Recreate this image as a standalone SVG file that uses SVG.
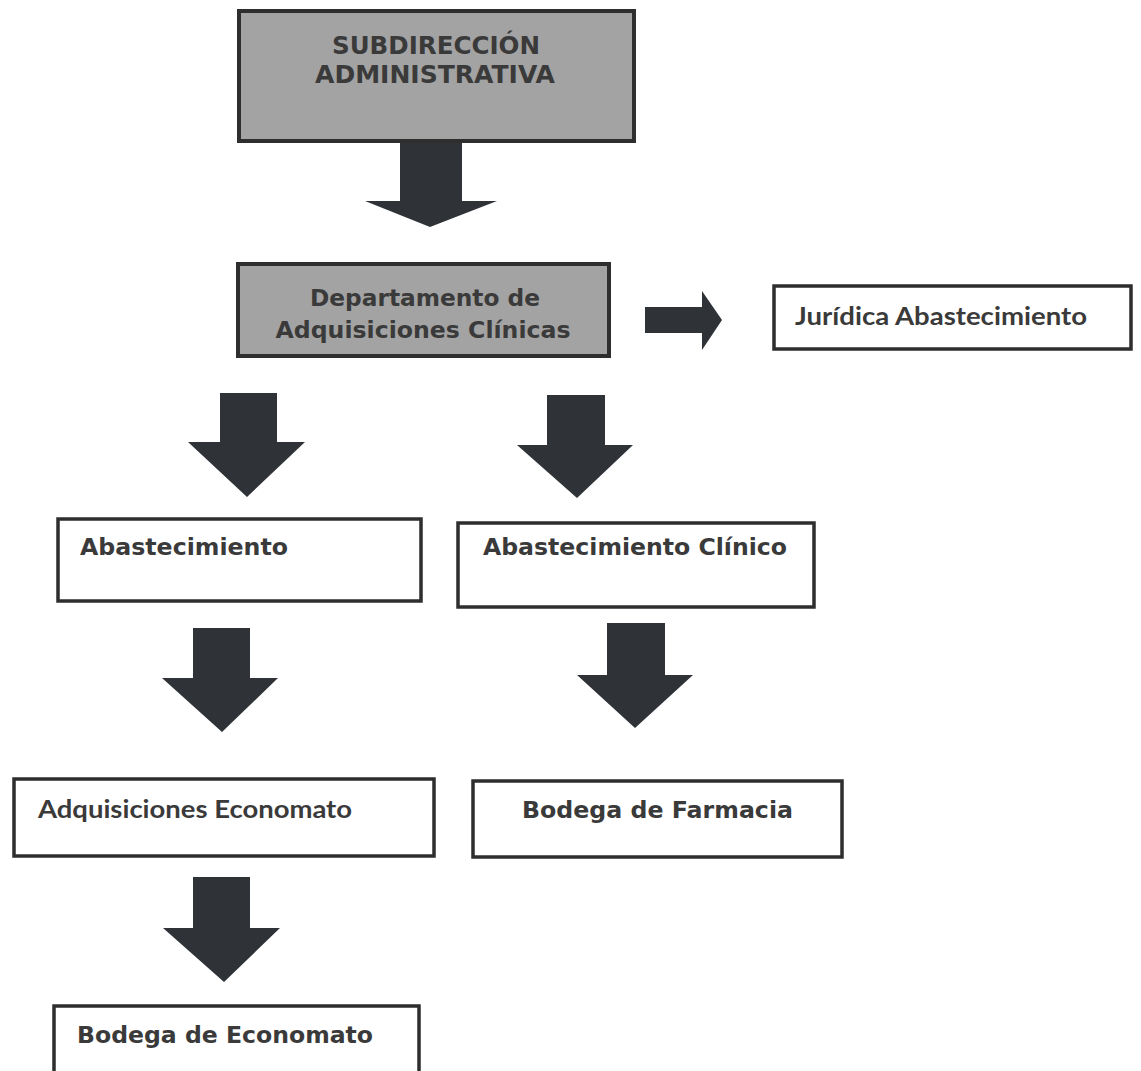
<svg xmlns="http://www.w3.org/2000/svg" width="1141" height="1071" viewBox="0 0 1141 1071">
<style>
.box{fill:#ffffff;stroke:#2e2e2e;stroke-width:3.5}
.gbox{fill:#a3a3a3;stroke:#2e2e2e;stroke-width:4}
.v{font-family:"DejaVu Sans",Verdana,sans-serif;font-weight:bold;fill:#3a3a3a;font-size:23px}
.c{font-family:Lato,"Open Sans",sans-serif;font-weight:bold;fill:#3a3a3a;font-size:24px}
.arr{fill:#2f3338}
</style>
<rect width="1141" height="1071" fill="#ffffff"/>
<g id="connectors">
<path class="arr" d="M400,133 H462 V201 H497 L430,227 L365,201 H400 Z"/>
<path class="arr" d="M645,307 H702 V291 L722,320 L702,350 V333 H645 Z"/>
<path class="arr" d="M220,393 H277 V442 H305 L247,497 L188,442 H220 Z"/>
<path class="arr" d="M547,395 H605 V445 H633 L577,498 L517,445 H547 Z"/>
<path class="arr" d="M193,628 H250 V678 H278 L222,732 L162,678 H193 Z"/>
<path class="arr" d="M607,623 H665 V675 H693 L635,728 L577,675 H607 Z"/>
<path class="arr" d="M193,877 H250 V928 H280 L224,982 L163,928 H193 Z"/>
</g>
<g id="subdireccion">
<rect class="gbox" x="239" y="11" width="395" height="130"/>
<text class="v" x="436" y="54" text-anchor="middle" textLength="208" lengthAdjust="spacingAndGlyphs" style="font-size:24px">SUBDIRECCIÓN</text>
<text class="v" x="435" y="83" text-anchor="middle" textLength="240" lengthAdjust="spacingAndGlyphs" style="font-size:24px">ADMINISTRATIVA</text>
</g>
<g id="departamento">
<rect class="gbox" x="238" y="264" width="371" height="92"/>
<text class="v" x="425" y="306" text-anchor="middle" textLength="230" lengthAdjust="spacingAndGlyphs">Departamento de</text>
<text class="v" x="423" y="338" text-anchor="middle" textLength="295" lengthAdjust="spacingAndGlyphs">Adquisiciones Clínicas</text>
</g>
<g id="juridica">
<rect class="box" x="774" y="286" width="357" height="63"/>
<text class="c" x="795" y="325" textLength="292" lengthAdjust="spacingAndGlyphs">Jurídica Abastecimiento</text>
</g>
<g id="abastecimiento">
<rect class="box" x="58" y="519" width="363" height="82"/>
<text class="v" x="80" y="555" textLength="208" lengthAdjust="spacingAndGlyphs">Abastecimiento</text>
</g>
<g id="abastecimiento-clinico">
<rect class="box" x="458" y="523" width="356" height="84"/>
<text class="v" x="483" y="555" textLength="304" lengthAdjust="spacingAndGlyphs">Abastecimiento Clínico</text>
</g>
<g id="adquisiciones-economato">
<rect class="box" x="14" y="779" width="420" height="77"/>
<text class="c" x="38" y="818" textLength="314" lengthAdjust="spacingAndGlyphs">Adquisiciones Economato</text>
</g>
<g id="bodega-farmacia">
<rect class="box" x="473" y="781" width="369" height="76"/>
<text class="v" x="522" y="818" textLength="271" lengthAdjust="spacingAndGlyphs">Bodega de Farmacia</text>
</g>
<g id="bodega-economato">
<rect class="box" x="54" y="1006" width="365" height="80"/>
<text class="v" x="77" y="1043" textLength="296" lengthAdjust="spacingAndGlyphs">Bodega de Economato</text>
</g>
</svg>
